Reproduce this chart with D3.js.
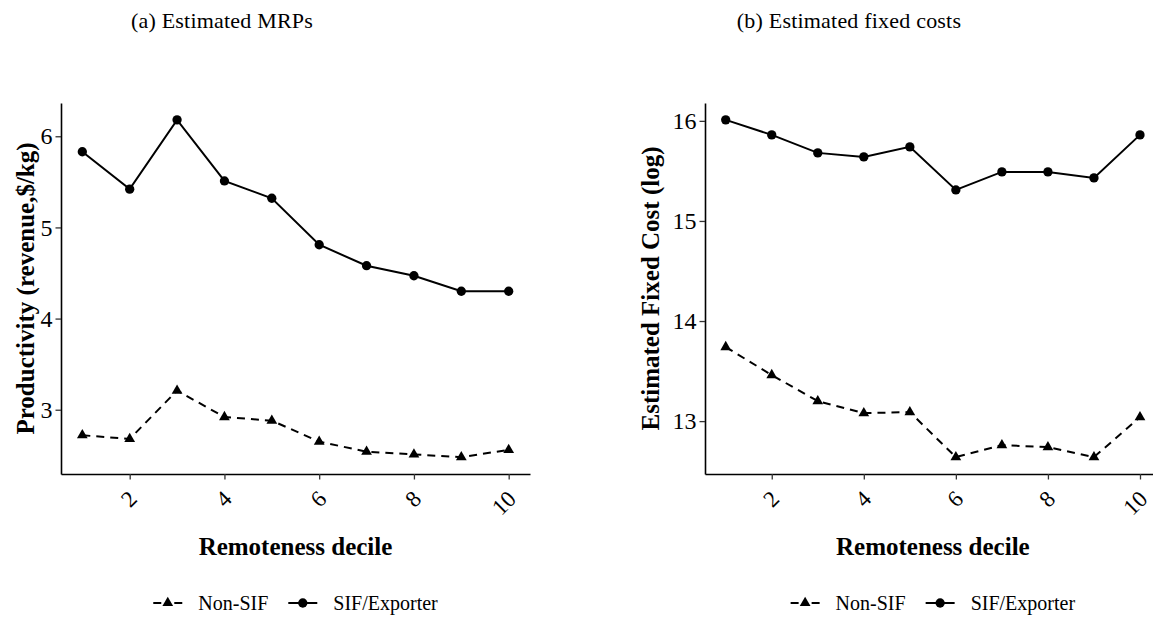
<!DOCTYPE html>
<html>
<head>
<meta charset="utf-8">
<script src="https://cdn.jsdelivr.net/npm/d3@7"></script>
<style>
  body { margin: 0; background: #fff; }
  svg { display: block; }
  text { font-family: "Liberation Serif", "Times New Roman", serif; fill: #000; }
</style>
</head>
<body>
<svg id="chart" width="1153" height="617"></svg>
<script>
// ---- data ----
const deciles = [1, 2, 3, 4, 5, 6, 7, 8, 9, 10];
const xTickValues = [2, 4, 6, 8, 10];

const mrpNonSIF = [2.72, 2.68, 3.21, 2.92, 2.88, 2.65, 2.54, 2.51, 2.48, 2.56];
const mrpSIF    = [5.83, 5.42, 6.18, 5.51, 5.32, 4.81, 4.58, 4.47, 4.30, 4.30];
const mrpTicks  = [3, 4, 5, 6];

const fcNonSIF  = [13.74, 13.46, 13.20, 13.08, 13.09, 12.64, 12.76, 12.74, 12.64, 13.04];
const fcSIF     = [16.01, 15.86, 15.68, 15.64, 15.74, 15.31, 15.49, 15.49, 15.43, 15.86];
const fcTicks   = [13, 14, 15, 16];

const seriesNames = ["Non-SIF", "SIF/Exporter"];

const panels = [
  { title: "(a) Estimated MRPs", titleX: 222, ytitle: "Productivity (revenue,$/kg)",
    left: 61, right: 530, ytitleX: 34, nonSIF: mrpNonSIF, sif: mrpSIF, ticks: mrpTicks },
  { title: "(b) Estimated fixed costs", titleX: 849, ytitle: "Estimated Fixed Cost (log)",
    left: 705, right: 1160.7, ytitleX: 659, nonSIF: fcNonSIF, sif: fcSIF, ticks: fcTicks }
];

const svg = d3.select("#chart");
const plotTop = 103, plotBottom = 474;

panels.forEach(p => {
  const g = svg.append("g");
  const x = d3.scaleLinear().domain([0.55, 10.45]).range([p.left, p.right]);
  const all = p.nonSIF.concat(p.sif);
  const [mn, mx] = d3.extent(all);
  const pad = (mx - mn) * 0.05;
  const y = d3.scaleLinear().domain([mn - pad, mx + pad]).range([plotBottom, plotTop]);

  // title
  svg.append("text").attr("x", p.titleX).attr("y", 28)
    .attr("text-anchor", "middle").style("font-size", "22px")
    .style("letter-spacing", "0.2px").text(p.title);

  // y axis
  const ya = g.append("g").attr("transform", `translate(${p.left},0)`)
    .call(d3.axisLeft(y).tickValues(p.ticks).tickSize(5.5).tickSizeOuter(0).tickPadding(3).tickFormat(d3.format("d")));
  ya.select(".domain").attr("stroke", "#000").attr("stroke-width", 1.6);
  ya.selectAll(".tick line").attr("stroke", "#333").attr("stroke-width", 1.3);
  ya.selectAll(".tick text").style("font-size", "24px").style("font-family", "Liberation Serif").attr("fill", "#222");

  // x axis
  const xa = g.append("g").attr("transform", `translate(0,${plotBottom})`)
    .call(d3.axisBottom(x).tickValues(xTickValues).tickSize(5.5).tickSizeOuter(0).tickFormat(d3.format("d")));
  xa.select(".domain").attr("stroke", "#000").attr("stroke-width", 1.6);
  xa.selectAll(".tick line").attr("stroke", "#333").attr("stroke-width", 1.3);
  xa.selectAll(".tick text")
    .attr("y", null).attr("dy", null)
    .attr("text-anchor", "end")
    .attr("dominant-baseline", "central")
    .attr("transform", "translate(3,21) rotate(-45)")
    .style("font-size", "23px").style("font-family", "Liberation Serif").attr("fill", "#222");

  // axis titles
  g.append("text").attr("x", (p.left + p.right) / 2).attr("y", 555)
    .attr("text-anchor", "middle").style("font-size", "25px").style("font-weight", "bold")
    .text("Remoteness decile");
  g.append("text").attr("transform", `translate(${p.ytitleX},${(plotTop + plotBottom) / 2}) rotate(-90)`)
    .attr("text-anchor", "middle").style("font-size", "25px").style("font-weight", "bold")
    .text(p.ytitle);

  // lines
  const line = d3.line().x((d, i) => x(deciles[i])).y(d => y(d));
  g.append("path").datum(p.nonSIF).attr("d", line).attr("fill", "none")
    .attr("stroke", "#000").attr("stroke-width", 2).attr("stroke-dasharray", "8,6");
  g.append("path").datum(p.sif).attr("d", line).attr("fill", "none")
    .attr("stroke", "#000").attr("stroke-width", 2);

  const tri = d3.symbol().type(d3.symbolTriangle).size(50);
  const circ = d3.symbol().type(d3.symbolCircle).size(68);
  g.selectAll(".tri").data(p.nonSIF).join("path").attr("class", "tri")
    .attr("d", tri).attr("transform", (d, i) => `translate(${x(deciles[i])},${y(d)})`).attr("fill", "#000");
  g.selectAll(".circ").data(p.sif).join("path").attr("class", "circ")
    .attr("d", circ).attr("transform", (d, i) => `translate(${x(deciles[i])},${y(d)})`).attr("fill", "#000");

  // legend
  const lg = g.append("g");
  const ly = 603;
  let cx = 0;
  seriesNames.forEach((name, k) => {
    const item = lg.append("g").attr("transform", `translate(${cx},0)`);
    item.append("line").attr("x1", 0).attr("x2", 29).attr("y1", ly).attr("y2", ly)
      .attr("stroke", "#000").attr("stroke-width", 2)
      .attr("stroke-dasharray", k === 0 ? "8,13,8" : null);
    item.append("path").attr("d", k === 0 ? tri() : circ())
      .attr("transform", `translate(14.5,${ly})`).attr("fill", "#000");
    const t = item.append("text").attr("x", 45).attr("y", ly + 7)
      .style("font-size", "20px").attr("fill", "#222").text(name);
    const w = t.node().getComputedTextLength();
    cx += 45 + w + 20;
  });
  const total = cx - 20;
  lg.attr("transform", `translate(${(p.left + p.right) / 2 - total / 2},0)`);
});
</script>
</body>
</html>
